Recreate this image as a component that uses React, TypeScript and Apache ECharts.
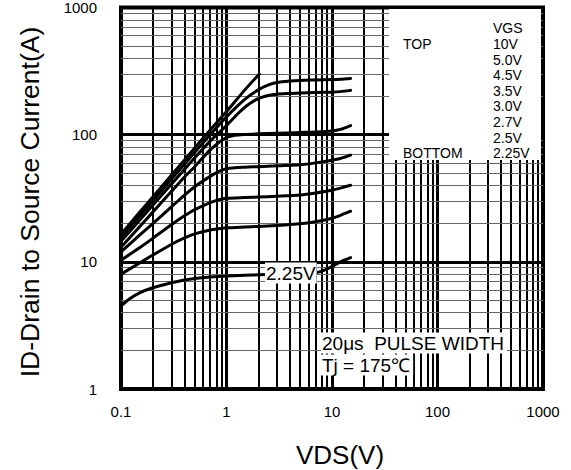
import React, { useEffect, useRef } from "react";
import * as echarts from "echarts";

// ---- data ----
const vgsLabels = ["10V", "5.0V", "4.5V", "3.5V", "3.0V", "2.7V", "2.5V", "2.25V"];

const vds10 = [0.1, 0.15, 0.2, 0.3, 0.5, 0.7, 1, 1.5, 2.05];
const id10 = [16.5, 24.5, 32.3, 47.9, 78.6, 109, 152, 226, 300];

const vds50 = [0.1, 0.15, 0.2, 0.3, 0.5, 0.7, 1, 1.5, 2, 2.5, 3, 4, 5, 7, 10, 12, 15];
const id50 = [15.5, 22.9, 30.1, 44.5, 72.7, 100, 138, 190, 225, 246, 257, 264, 267, 269, 271, 273, 277];

const vds45 = [0.1, 0.15, 0.2, 0.3, 0.5, 0.7, 1, 1.3, 1.6, 2, 2.5, 3, 4, 5, 7, 10, 12, 15];
const id45 = [14.5, 21.2, 27.8, 40.7, 65.7, 89, 118, 148, 172, 192, 203, 208, 211, 213, 214.5, 216, 218, 223];

const vds35 = [0.1, 0.15, 0.2, 0.3, 0.4, 0.5, 0.7, 0.85, 1, 1.2, 1.5, 2, 3, 5, 7, 10, 12, 15];
const id35 = [13, 18.9, 24.6, 35.7, 46.5, 56, 76, 87, 95, 99, 100.5, 101.5, 102.5, 104, 105, 107, 110, 118];

const vds30 = [0.1, 0.15, 0.2, 0.3, 0.4, 0.5, 0.7, 0.85, 1, 1.5, 2, 3, 5, 7, 10, 12, 15];
const id30 = [12, 16.2, 20, 27, 33.5, 39, 47, 51.5, 54, 55.5, 56, 57, 58, 60, 63, 65, 69];

const vds27 = [0.1, 0.15, 0.2, 0.3, 0.4, 0.5, 0.7, 0.85, 1, 1.5, 2, 3, 5, 7, 10, 12, 15];
const id27 = [10.3, 12.9, 15.3, 19.6, 23, 25.7, 29.2, 30.8, 31.6, 32, 32.3, 32.8, 33.6, 34.8, 36.5, 38, 40];

const vds25 = [0.1, 0.15, 0.2, 0.3, 0.4, 0.5, 0.7, 0.85, 1, 1.5, 2, 3, 5, 7, 10, 12, 15];
const id25 = [8, 9.8, 11.3, 13.7, 15.4, 16.6, 17.8, 18.2, 18.5, 18.8, 19, 19.3, 19.9, 20.7, 22, 23.2, 25];

const vds225 = [0.1, 0.12, 0.15, 0.2, 0.3, 0.4, 0.5, 0.7, 1, 1.5, 2, 3, 5, 7, 8.5, 10, 12, 15];
const id225 = [4.5, 5.1, 5.7, 6.25, 6.85, 7.2, 7.4, 7.6, 7.75, 7.85, 7.9, 8, 8.1, 8.2, 8.6, 9.2, 10, 10.8];

const curvesVds = [vds10, vds50, vds45, vds35, vds30, vds27, vds25, vds225];
const curvesId = [id10, id50, id45, id35, id30, id27, id25, id225];

const xMinorGrid = [0.2, 0.3, 0.4, 0.5, 0.6, 0.7, 0.8, 0.9, 2, 3, 4, 5, 6, 7, 8, 9, 20, 30, 40, 50, 60, 70, 80, 90, 200, 300, 400, 500, 600, 700, 800, 900];
const yMinorGrid = [2, 3, 4, 5, 6, 7, 8, 9, 20, 30, 40, 50, 60, 70, 80, 90, 200, 300, 400, 500, 600, 700, 800, 900];

const FONT = "'Liberation Sans', Arial, sans-serif";

export default function App() {
  const ref = useRef<HTMLDivElement>(null);

  useEffect(() => {
    if (!ref.current) return;
    const chart = echarts.init(ref.current, undefined, { renderer: "svg" });

    const fmt = (v: number) => String(Number(v.toPrecision(6)));

    const curveSeries = curvesVds.map((xs, i) => ({
      name: vgsLabels[i],
      type: "line",
      data: xs.map((x, j) => [x, curvesId[i][j]]),
      showSymbol: false,
      symbol: "none",
      smooth: 0.25,
      silent: true,
      lineStyle: { color: "#000", width: 3, cap: "round", join: "round" },
      z: 5,
    }));

    const gridSeries = {
      type: "line",
      data: [],
      silent: true,
      markLine: {
        silent: true,
        symbol: ["none", "none"],
        label: { show: false },
        animation: false,
        data: [
          ...xMinorGrid.map((v) => ({ xAxis: v, lineStyle: { color: "#000", width: 2, type: "solid" } })),
          ...yMinorGrid.map((v) => ({ yAxis: v, lineStyle: { color: "#666", width: 1, type: "solid" } })),
        ],
      },
      z: 3,
    };

    const legendTexts: any[] = [
      { type: "text", x: 493, y: 28, style: { text: "VGS", font: `14px ${FONT}`, fill: "#000", verticalAlign: "middle" } },
      { type: "text", x: 403, y: 44, style: { text: "TOP", font: `14px ${FONT}`, fill: "#000", verticalAlign: "middle" } },
      { type: "text", x: 403, y: 153, style: { text: "BOTTOM", font: `14px ${FONT}`, fill: "#000", verticalAlign: "middle" } },
    ];
    vgsLabels.forEach((lab, i) => {
      legendTexts.push({
        type: "text",
        x: 493,
        y: 44 + i * 15.6,
        style: { text: lab, font: `14px ${FONT}`, fill: "#000", verticalAlign: "middle" },
      });
    });

    chart.setOption({
      animation: false,
      backgroundColor: "#fff",
      grid: {
        left: 121,
        right: 28,
        top: 7,
        bottom: 81,
        show: true,
        borderColor: "#000",
        borderWidth: 4,
        backgroundColor: "transparent",
      },
      xAxis: {
        type: "log",
        logBase: 10,
        min: 0.1,
        max: 1000,
        axisLine: { show: false },
        axisTick: { show: false },
        axisLabel: { fontSize: 15, color: "#000", fontFamily: FONT, margin: 15, formatter: fmt, showMinLabel: true, showMaxLabel: true },
        splitLine: { show: true, lineStyle: { color: "#000", width: 3 } },
      },
      yAxis: {
        type: "log",
        logBase: 10,
        min: 1,
        max: 1000,
        axisLine: { show: false },
        axisTick: { show: false },
        axisLabel: { fontSize: 15, color: "#000", fontFamily: FONT, margin: 24, formatter: fmt, showMinLabel: true, showMaxLabel: true },
        splitLine: { show: true, lineStyle: { color: "#000", width: 3 } },
      },
      series: [gridSeries, ...curveSeries],
      graphic: [
        {
          type: "rect",
          z: 100,
          shape: { x: 389, y: 9, width: 152, height: 151 },
          style: { fill: "#fff" },
          silent: true,
        },
        ...legendTexts.map((t) => ({ ...t, z: 101, silent: true })),
        {
          type: "text",
          z: 101,
          x: 265,
          y: 273,
          silent: true,
          style: { text: "2.25V", font: `19px ${FONT}`, fill: "#000", verticalAlign: "middle", backgroundColor: "#fff", padding: [1, 1] },
        },
        {
          type: "text",
          z: 101,
          x: 321,
          y: 343,
          silent: true,
          style: { text: "20μs  PULSE WIDTH", font: `19px ${FONT}`, fill: "#000", verticalAlign: "middle", backgroundColor: "#fff", padding: [1, 3, 1, 1] },
        },
        {
          type: "text",
          z: 101,
          x: 321,
          y: 365,
          silent: true,
          style: { text: "Tj = 175℃", font: `19px ${FONT}`, fill: "#000", verticalAlign: "middle", backgroundColor: "#fff", padding: [1, 3, 1, 1] },
        },
        {
          type: "text",
          z: 101,
          x: 340,
          y: 455,
          silent: true,
          style: { text: "VDS(V)", font: `26px ${FONT}`, fill: "#000", align: "center", verticalAlign: "middle" },
        },
        {
          type: "text",
          z: 101,
          x: 30,
          y: 202,
          rotation: Math.PI / 2,
          silent: true,
          style: { text: "ID-Drain to Source Current(A)", font: `26.5px ${FONT}`, fill: "#000", align: "center", verticalAlign: "middle" },
        },
      ],
    });

    return () => chart.dispose();
  }, []);

  return (
    <div
      ref={ref}
      style={{ position: "absolute", left: 0, top: 0, width: 571, height: 470, background: "#fff" }}
    />
  );
}
